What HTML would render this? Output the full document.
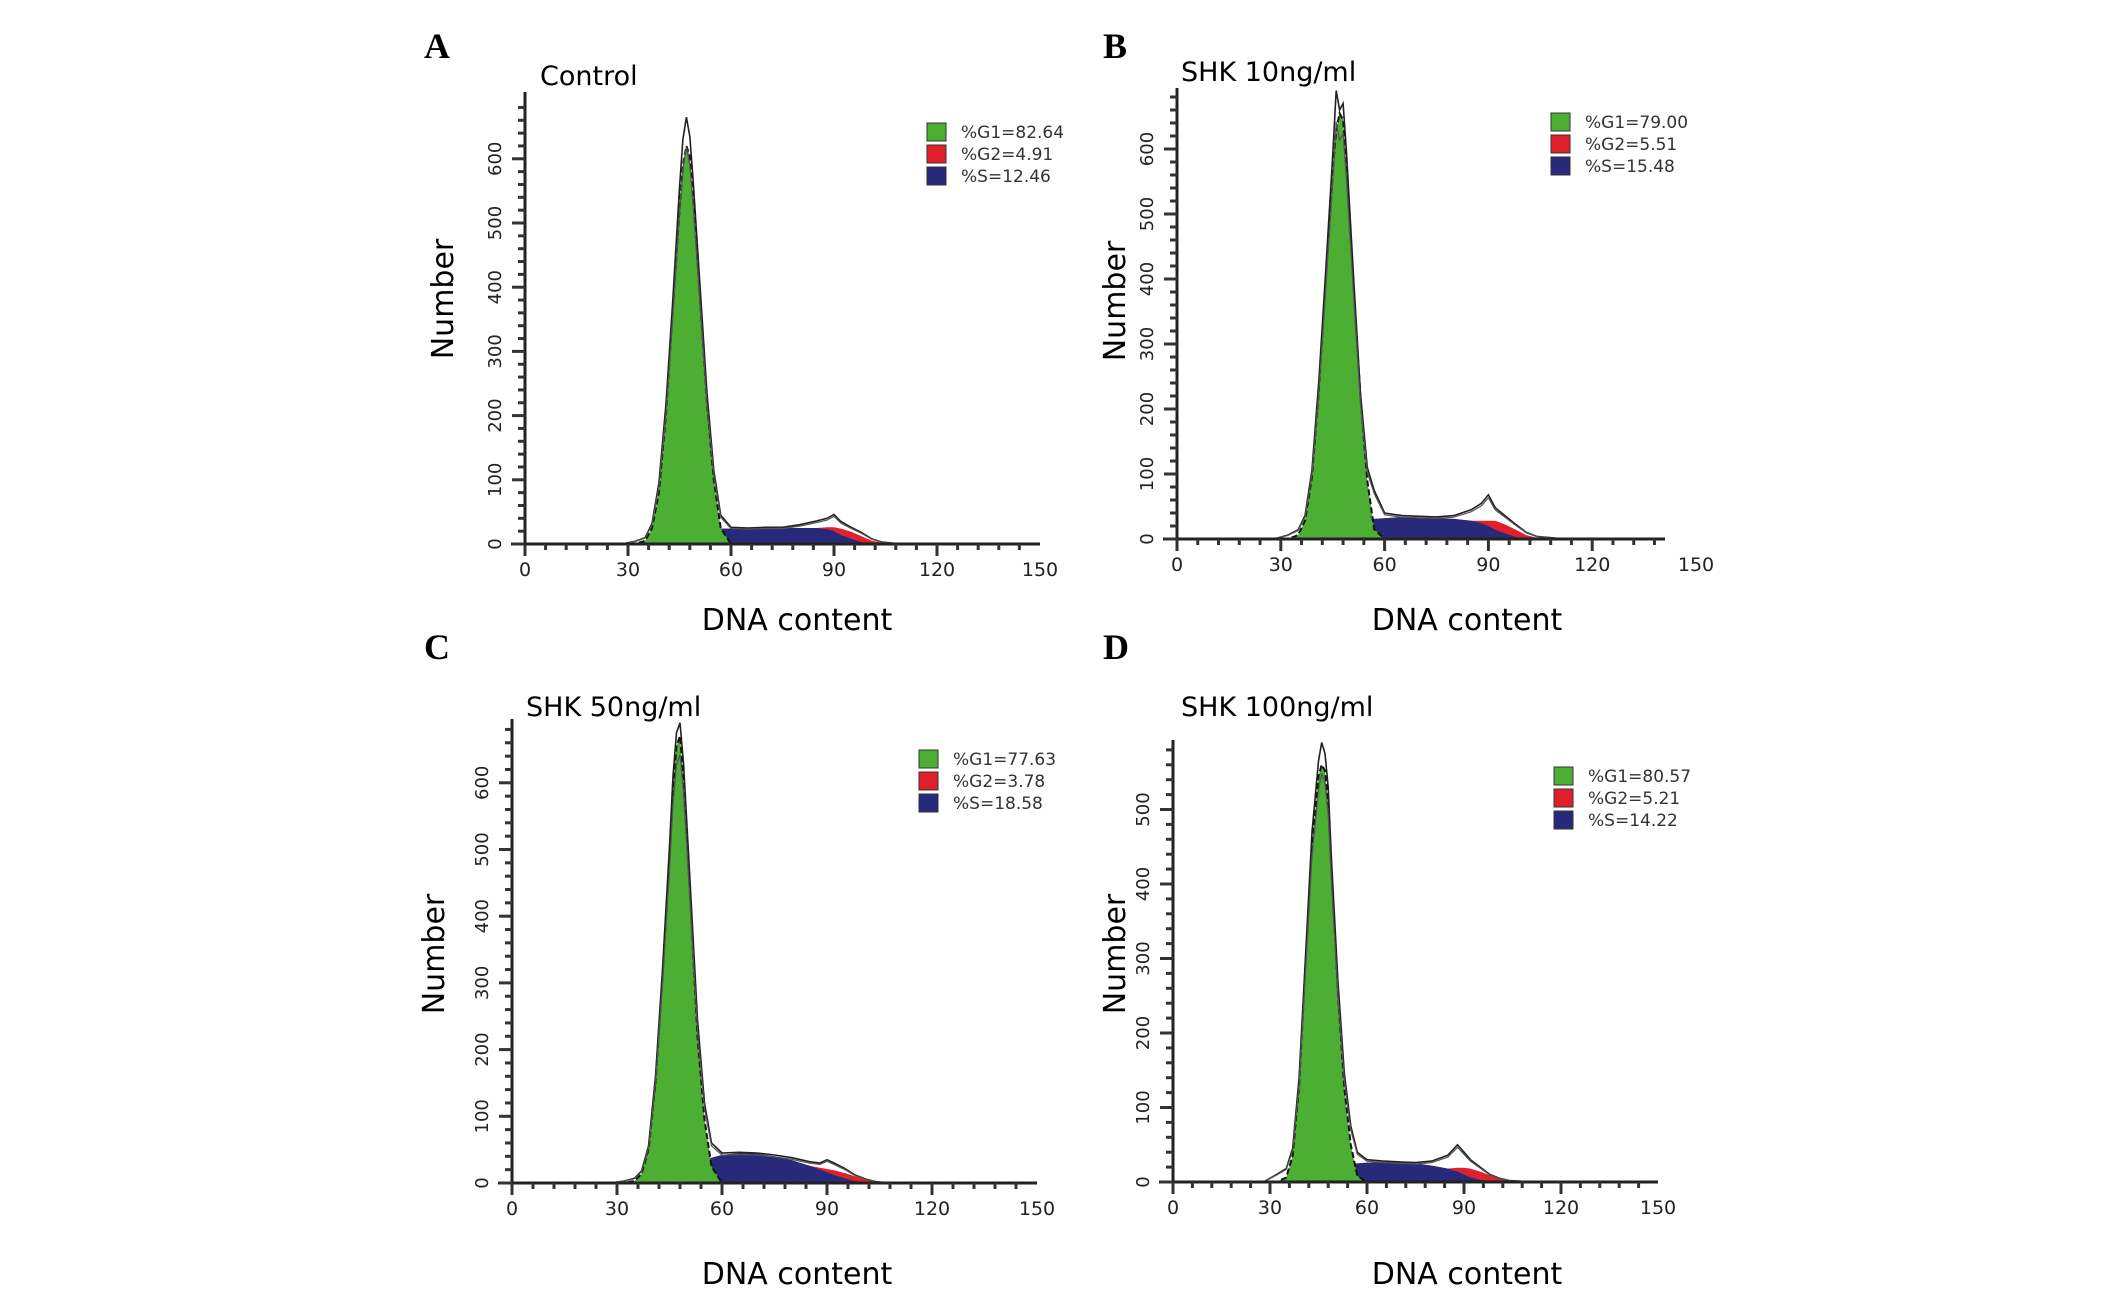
<!DOCTYPE html>
<html><head><meta charset="utf-8"><style>
html,body{margin:0;padding:0;background:#fff;}
svg{display:block;}
</style></head><body>
<svg id="fig" width="2126" height="1291" viewBox="0 0 2126 1291" xmlns="http://www.w3.org/2000/svg" font-family="Liberation Sans, sans-serif"></svg>
<script>
// DNA content bins (shared)
const dnaBins = [28,32,35,37,39,41,43,45,46,47,48,49,51,53,55,57,60,65,70,75,80,85,88,90,92,95,98,101,104,108,112];
const xTicks = [0,30,60,90,120,150];
// Panel A (Control)
const g1A = [0,0,5,25,80,200,360,520,590,620,605,540,380,220,100,25,0,0,0,0,0,0,0,0,0,0,0,0,0,0,0];
const sA  = [0,0,0,0,0,0,3,10,14,16,18,19,21,22,23,24,24,25,25,25,25,25,23,20,14,8,3,0,0,0,0];
const g2A = [0,0,0,0,0,0,0,0,0,0,0,0,0,0,0,0,0,0,0,0,0,0,3,6,10,11,9,5,2,0,0];
const totA= [0,4,10,32,95,215,375,555,630,665,635,565,400,235,115,45,26,25,26,26,30,36,40,46,35,26,18,8,3,1,0];
const legA = ["%G1=82.64","%G2=4.91","%S=12.46"];
// Panel B (SHK 10ng/ml)
const g1B = [0,0,6,28,95,230,400,565,630,655,645,575,390,220,90,15,0,0,0,0,0,0,0,0,0,0,0,0,0,0,0];
const sB  = [0,0,0,0,0,0,2,8,12,16,20,24,28,30,30,31,32,34,33,32,31,28,24,20,14,8,3,0,0,0,0];
const g2B = [0,0,0,0,0,0,0,0,0,0,0,0,0,0,0,0,0,0,0,0,0,0,4,8,14,14,11,6,2,0,0];
const totB= [0,6,14,36,105,245,415,590,690,660,670,595,405,225,110,75,40,36,35,34,36,45,55,68,48,35,22,10,4,2,0];
const legB = ["%G1=79.00","%G2=5.51","%S=15.48"];
// Panel C (SHK 50ng/ml)
const g1C = [0,0,3,14,50,150,310,490,595,655,670,610,420,220,95,25,0,0,0,0,0,0,0,0,0,0,0,0,0,0,0];
const sC  = [0,0,0,0,0,0,2,6,9,12,15,18,24,30,34,38,42,45,44,40,34,26,20,16,12,7,3,0,0,0,0];
const g2C = [0,0,0,0,0,0,0,0,0,0,0,0,0,0,0,0,0,0,0,0,0,0,3,5,7,8,7,5,2,0,0];
const totC= [0,3,7,18,55,160,320,505,610,675,690,630,440,245,120,60,45,46,45,42,38,32,30,35,30,22,12,6,2,0,0];
const legC = ["%G1=77.63","%G2=3.78","%S=18.58"];
// Panel D (SHK 100ng/ml)
const g1D = [0,0,6,35,130,295,455,545,560,552,510,420,255,125,50,8,0,0,0,0,0,0,0,0,0,0,0,0,0,0,0];
const sD  = [0,0,0,0,0,0,5,10,12,14,16,18,20,22,24,25,26,27,26,25,22,18,14,10,6,3,1,0,0,0,0];
const g2D = [0,0,0,0,0,0,0,0,0,0,0,0,0,0,0,0,0,0,0,0,0,0,5,9,12,11,8,5,2,0,0];
const totD= [0,10,18,45,140,305,470,565,590,575,530,435,270,145,75,40,30,28,27,26,28,36,50,40,30,20,10,5,2,1,0];
const legD = ["%G1=80.57","%G2=5.21","%S=14.22"];

const NS="http://www.w3.org/2000/svg";
const svg=document.getElementById('fig');
function mk(tag,attrs,parent,text){const e=document.createElementNS(NS,tag);for(const k in attrs)e.setAttribute(k,attrs[k]);if(text!==undefined)e.textContent=text;(parent||svg).appendChild(e);return e;}
function sumArr(a,b){return a.map((v,i)=>v+b[i]);}

function panel(cfg,g1,s,g2,tot,leg){
  const g=mk('g',{});
  
  
  const X=v=>cfg.ox+(v/150)*(cfg.x150-cfg.ox);
  const Y=v=>cfg.oy-v*cfg.py;
  const area=(vals)=>{let d='M'+X(dnaBins[0])+','+Y(0);dnaBins.forEach((b,i)=>{d+=' L'+X(b).toFixed(1)+','+Y(vals[i]).toFixed(1);});d+=' L'+X(dnaBins[dnaBins.length-1])+','+Y(0)+'Z';return d;};
  const line=(vals,k)=>dnaBins.map((b,i)=>X(b).toFixed(1)+','+Y(vals[i]*k).toFixed(1)).join(' ');
  const L=mk('text',{x:cfg.lx,y:cfg.ly,'font-family':'Liberation Serif, serif','font-weight':'bold','font-size':36,fill:'#000'},g,cfg.id);
  
  const T=mk('text',{x:cfg.tx,y:cfg.ty,'font-family':'DejaVu Sans, sans-serif','font-size':27,fill:'#000'},g,cfg.title);
  
  const tot2=sumArr(s,g2);
  const r=mk('path',{d:area(tot2),fill:'#e0202a'},g);
  const b=mk('path',{d:area(s),fill:'#27297a'},g);
  const gr=mk('path',{d:area(g1),fill:'#4cae33',stroke:'#111','stroke-width':2,'stroke-dasharray':'6,3'},g);
  const o1=mk('polyline',{points:line(tot,1),fill:'none',stroke:'#222','stroke-width':1.6},g);
  const o2=mk('polyline',{points:line(tot,0.93),fill:'none',stroke:'#555','stroke-width':1.2},g);
  const ya=mk('line',{x1:cfg.ox,y1:cfg.top,x2:cfg.ox,y2:cfg.oy+12,stroke:'#222','stroke-width':3},g);
  const xa=mk('line',{x1:cfg.ox-14,y1:cfg.oy,x2:cfg.xend,y2:cfg.oy,stroke:'#222','stroke-width':3},g);
  for(let v=0;v<=cfg.ymax;v+=20){const major=v%100===0;const t=mk('line',{x1:cfg.ox-(major?13:7),y1:Y(v),x2:cfg.ox,y2:Y(v),stroke:'#333','stroke-width':3},g);
    if(major){const ty=Y(v);const tl=mk('text',{x:cfg.ox-24,y:ty,'font-family':'DejaVu Sans, sans-serif','font-size':18,'text-anchor':'middle',transform:'rotate(-90 '+(cfg.ox-24)+' '+ty+')',fill:'#222'},g,String(v));}}
  for(let v=0;v<=144;v+=6){if(X(v)>cfg.xend+1)break;const major=v%30===0;const t=mk('line',{x1:X(v),y1:cfg.oy,x2:X(v),y2:cfg.oy+(major?12:6),stroke:'#333','stroke-width':3},g);}
  xTicks.forEach(v=>{const tl=mk('text',{x:X(v),y:cfg.oy+32,'font-family':'DejaVu Sans, sans-serif','font-size':19,'text-anchor':'middle',fill:'#222'},g,String(v));});
  const ny=mk('text',{x:cfg.nx,y:cfg.ny,'font-family':'DejaVu Sans, sans-serif','font-size':30,'text-anchor':'middle',transform:'rotate(-90 '+cfg.nx+' '+cfg.ny+')',fill:'#000'},g,'Number');
  const dx=mk('text',{x:cfg.dx,y:cfg.dy,'font-family':'DejaVu Sans, sans-serif','font-size':30,'text-anchor':'middle',fill:'#000'},g,'DNA content');
  const cols=['#4cae33','#e0202a','#27297a'];
  leg.forEach((t,i)=>{const sy=cfg.legy+i*cfg.legdy;
    const sq=mk('rect',{x:cfg.legx,y:sy-9,width:19,height:18,fill:cols[i],stroke:'#333','stroke-width':1},g);
    const lt=mk('text',{x:cfg.legx+34,y:sy+6,'font-family':'DejaVu Sans, sans-serif','font-size':17,fill:'#333'},g,t);});
}

panel({id:'A',title:'Control',lx:424,ly:58,tx:540,ty:85,ox:525,oy:544,x150:1040,xend:1040,top:92,py:0.642,ymax:680,nx:453,ny:299,dx:797,dy:630,legx:927,legy:132,legdy:22},g1A,sA,g2A,totA,legA);
panel({id:'B',title:'SHK 10ng/ml',lx:1103,ly:58,tx:1181,ty:81,ox:1177,oy:539,x150:1696,xend:1665,top:88,py:0.65,ymax:680,nx:1125,ny:301,dx:1467,dy:630,legx:1551,legy:122,legdy:22},g1B,sB,g2B,totB,legB);
panel({id:'C',title:'SHK 50ng/ml',lx:424,ly:659,tx:526,ty:716,ox:512,oy:1183,x150:1037,xend:1037,top:719,py:0.667,ymax:680,nx:444,ny:954,dx:797,dy:1284,legx:919,legy:759,legdy:22},g1C,sC,g2C,totC,legC);
panel({id:'D',title:'SHK 100ng/ml',lx:1103,ly:659,tx:1181,ty:716,ox:1173,oy:1182,x150:1658,xend:1658,top:740,py:0.745,ymax:580,nx:1125,ny:954,dx:1467,dy:1284,legx:1554,legy:776,legdy:22},g1D,sD,g2D,totD,legD);
</script>
</body></html>
